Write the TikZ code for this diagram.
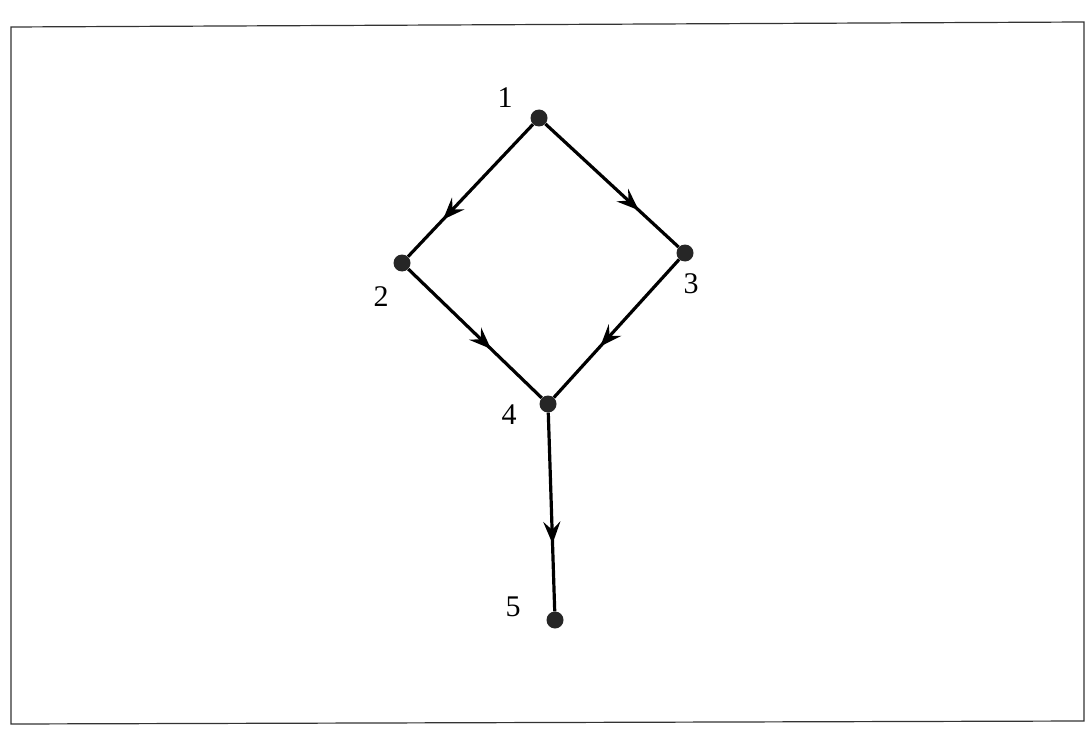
\documentclass[tikz,border=0pt]{standalone}
\usepackage{fontspec}
\setmainfont{Liberation Serif}
\usetikzlibrary{arrows.meta,decorations.markings}
\begin{document}
\begin{tikzpicture}[x=1pt,y=-1pt,
  vtx/.style={circle,fill=black!85,inner sep=0pt,minimum size=17pt},
  lbl/.style={font=\fontsize{30}{32}\selectfont,inner sep=0pt},
  edge/.style={line width=3.2pt,postaction={decorate},
    decoration={markings,mark=at position #1 with {\arrow{Stealth[length=22pt,width=17pt,inset=8pt]}}}},
  frame/.style={draw=black!80,line width=1.2pt}]
\useasboundingbox (0,0) rectangle (1089,738);
\draw[frame] (11,27) -- (1084,22) -- (1084,721) -- (11,724) -- cycle;
\node[vtx] (n1) at (539,118) {};
\node[vtx] (n2) at (402,263) {};
\node[vtx] (n3) at (685,253) {};
\node[vtx] (n4) at (548,404) {};
\node[vtx] (n5) at (555,620) {};
\node[lbl] (l1) at (505,98) {1};
\node[lbl] (l2) at (381,297) {2};
\node[lbl] (l3) at (691,284) {3};
\node[lbl] (l4) at (509,415) {4};
\node[lbl] (l5) at (513,607) {5};
\draw[edge=0.72] (n1) -- (n2);
\draw[edge=0.7] (n1) -- (n3);
\draw[edge=0.62] (n2) -- (n4);
\draw[edge=0.63] (n3) -- (n4);
\draw[edge=0.66] (n4) -- (n5);
\end{tikzpicture}
\end{document}
